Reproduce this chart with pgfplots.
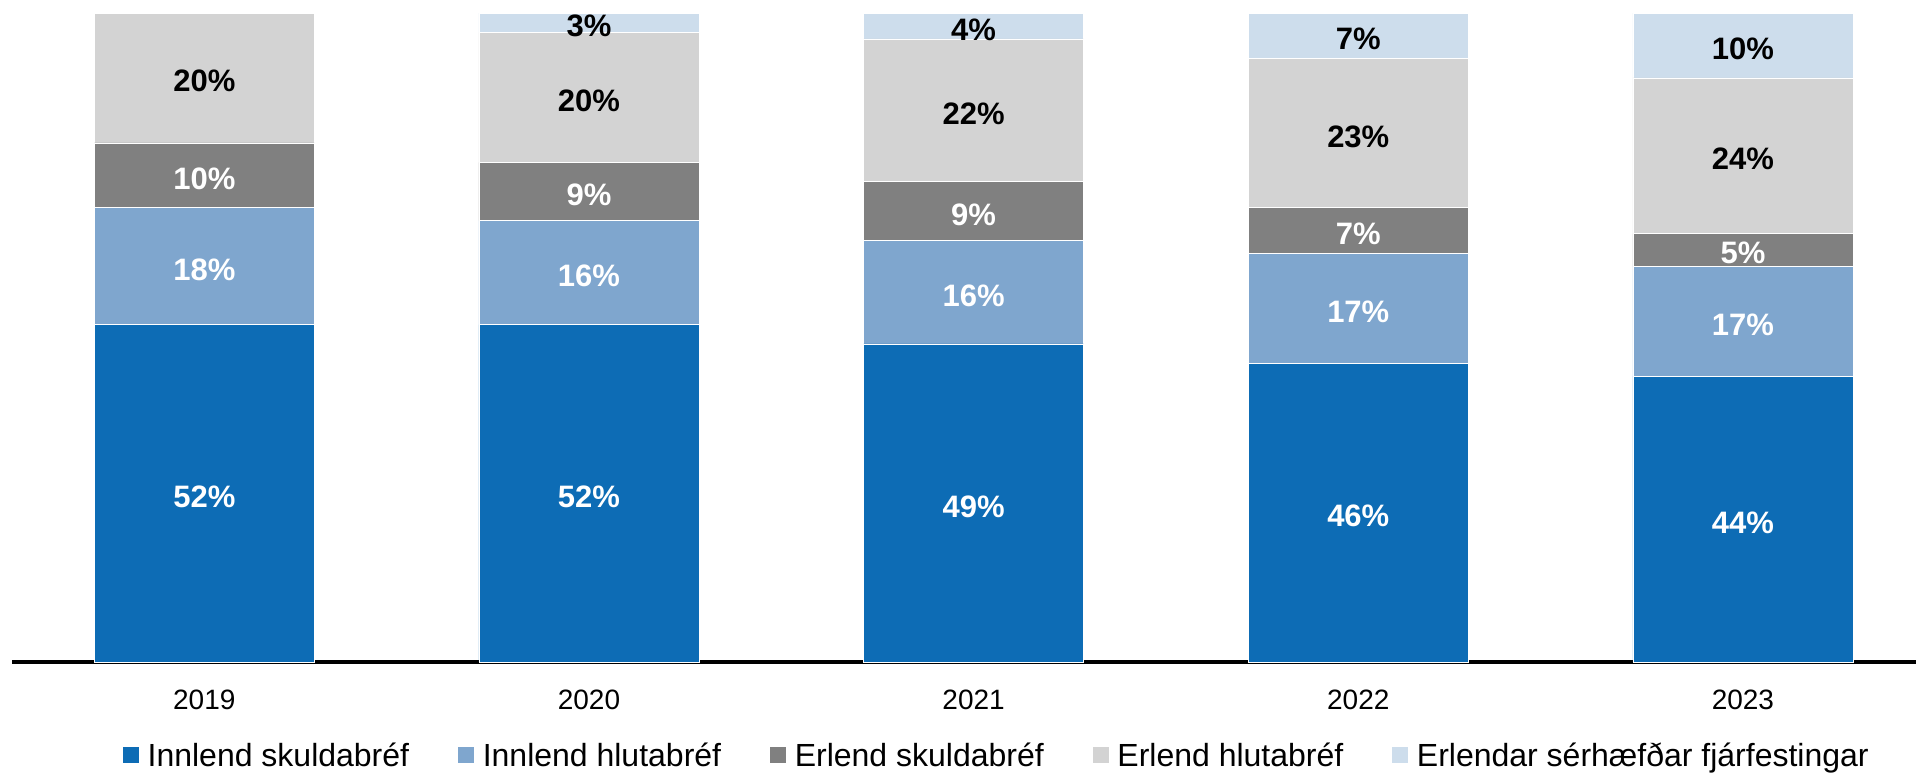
\documentclass[border=0pt]{standalone}
\usepackage{pgfplots}
\pgfplotsset{compat=1.18}
\usepackage{fontspec}
\setmainfont{Liberation Sans}

\definecolor{innskuld}{HTML}{0D6CB5}
\definecolor{innhluta}{HTML}{7FA6CE}
\definecolor{erlskuld}{HTML}{808080}
\definecolor{erlhluta}{HTML}{D3D3D3}
\definecolor{erlsers}{HTML}{CDDDEC}

\begin{document}
\begin{tikzpicture}
\begin{axis}[
  ybar stacked,
  scale only axis,
  width=952pt, height=324.5pt,
  xmin=-0.5, xmax=4.45, ymin=0, ymax=100,
  enlarge x limits=false, enlarge y limits=false,
  bar width=110pt,
  axis y line=none,
  axis x line*=bottom,
  x axis line style={-, line width=2pt, black},
  xtick={0,1,2,3,4},
  xticklabels={2019,2020,2021,2022,2023},
  major tick length=0pt,
  xticklabel style={font=\fontsize{14}{16}\selectfont, anchor=base, inner sep=0pt, yshift=-23.5pt},
  point meta=rawy,
  nodes near coords={\pgfmathfloatifflags{\pgfplotspointmeta}{0}{}{\pgfmathprintnumber[assume math mode=true]{\pgfplotspointmeta}\%}},
  every node near coord/.append style={anchor=center, inner sep=0pt, yshift=-1.7pt,
    font=\bfseries\fontsize{15.5}{18}\selectfont},
  legend columns=-1,
  legend cell align=left,
  legend style={at={(0.0578,-0.1433)}, anchor=west, draw=none, fill=none,
    inner sep=0pt, outer sep=0pt, font=\fontsize{16}{19}\selectfont,
    /tikz/every odd column/.append style={column sep=4pt},
    /tikz/every even column/.append style={column sep=24pt},
    nodes={inner sep=0pt, text height=11.5pt, text depth=0pt}},
  legend image code/.code={\fill[#1] (0pt,-4.25pt) rectangle (8.5pt,4.25pt);},
]
% Innlend skuldabref
\addplot[fill=innskuld, draw=white, line width=0.3pt, every node near coord/.append style={text=white}]
  coordinates {(0,52) (1,52) (2,49) (3,46) (4,44)};
% Innlend hlutabref
\addplot[fill=innhluta, draw=white, line width=0.3pt, every node near coord/.append style={text=white}]
  coordinates {(0,18) (1,16) (2,16) (3,17) (4,17)};
% Erlend skuldabref
\addplot[fill=erlskuld, draw=white, line width=0.3pt, every node near coord/.append style={text=white}]
  coordinates {(0,10) (1,9) (2,9) (3,7) (4,5)};
% Erlend hlutabref
\addplot[fill=erlhluta, draw=white, line width=0.3pt, every node near coord/.append style={text=black}]
  coordinates {(0,20) (1,20) (2,22) (3,23) (4,24)};
% Erlendar serhaefdar fjarfestingar
\addplot[fill=erlsers, draw=white, line width=0.3pt, every node near coord/.append style={text=black}]
  coordinates {(0,0) (1,3) (2,4) (3,7) (4,10)};
\legend{Innlend skuldabréf, Innlend hlutabréf, Erlend skuldabréf, Erlend hlutabréf, Erlendar sérhæfðar fjárfestingar}
\end{axis}
\pgfresetboundingbox
\path[use as bounding box] (-6pt,-55.5pt) rectangle (952pt,331pt);
\end{tikzpicture}
\end{document}
